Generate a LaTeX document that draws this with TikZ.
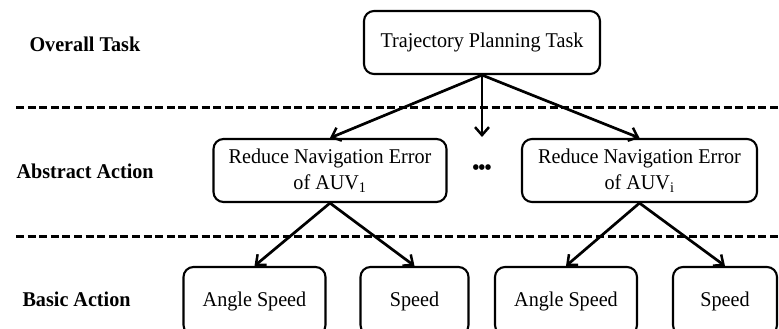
\documentclass[tikz,border=0pt]{standalone}
\usepackage{fontspec}
\setmainfont[FakeStretch=0.96]{Liberation Serif}
\usetikzlibrary{arrows.meta}
\begin{document}
\begin{tikzpicture}[x=1pt,y=-1pt,
  font=\fontsize{21}{23}\selectfont,
  task/.style={draw,line width=2.1pt,rounded corners=10pt,align=center,inner sep=0pt},
  level/.style={anchor=west,font=\fontsize{21}{23}\selectfont\bfseries},
  sep/.style={line width=3pt,dash pattern=on 8pt off 3.6pt},
  link/.style={line width=2.7pt,-{Straight Barb[length=8pt,width=14pt,line width=2.5pt]}}]
\useasboundingbox (0,0) rectangle (779,329);

% level labels
\node[level] (l1) at (26,44) {Overall Task};
\node[level] (l2) at (13,171) {Abstract Action};
\node[level] (l3) at (19,299) {Basic Action};

% separators between levels
\coordinate (s1a) at (16,107); \coordinate (s1b) at (779,107);
\coordinate (s2a) at (16,236); \coordinate (s2b) at (779,236);
\draw[sep] (s1a) -- (s1b);
\draw[sep] (s2a) -- (s2b);

% task hierarchy
\node[task,minimum width=236pt,minimum height=63pt] (top) at (482,42.5) {Trajectory Planning Task};
\node[task,minimum width=233pt,minimum height=63pt] (m1) at (330,170.5) {Reduce Navigation Error\\[3pt]of AUV\textsubscript{1}};
\node[task,minimum width=235pt,minimum height=63pt] (m2) at (639.5,170.5) {Reduce Navigation Error\\[3pt]of AUV\textsubscript{i}};
\node (dots) at (482,170) {\textbf{\textbullet\kern-1pt\textbullet\kern-1pt\textbullet}};
\coordinate (mid) at (482,137);

\node[task,minimum width=142pt,minimum height=68pt] (b1) at (254.5,301) {Angle Speed};
\node[task,minimum width=108pt,minimum height=68pt] (b2) at (414.5,301) {Speed};
\node[task,minimum width=142pt,minimum height=68pt] (b3) at (566,301) {Angle Speed};
\node[task,minimum width=104pt,minimum height=68pt] (b4) at (725,301) {Speed};

% connectors
\draw[link] (top.south) -- (m1.north);
\draw[link] (top.south) -- (mid);
\draw[link] (top.south) -- (m2.north);
\draw[link] (m1.south) -- (b1.north);
\draw[link] (m1.south) -- (b2.north);
\draw[link] (m2.south) -- (b3.north);
\draw[link] (m2.south) -- (b4.north);
\end{tikzpicture}
\end{document}
